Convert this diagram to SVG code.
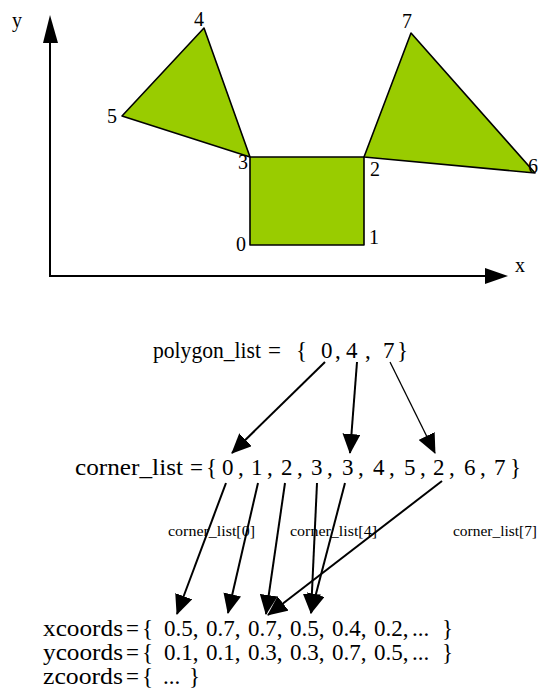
<svg xmlns="http://www.w3.org/2000/svg" width="538" height="698" viewBox="0 0 538 698">
<style>
.shape{fill:#99cc00;stroke:#000;stroke-width:1.6;stroke-linejoin:round}
.axis{stroke:#000;stroke-width:2;fill:none}
.t{font-family:"Liberation Serif","Times New Roman",serif;fill:#000}
.lbl{font-size:20px}
.main{font-size:23px}
.small{font-size:15px}
.conn{stroke:#000;stroke-width:2;fill:none}
.thin{stroke-width:1.3}
</style>
<defs>
<marker id="ah" viewBox="0 0 20 18" refX="19" refY="9" markerWidth="20" markerHeight="18" markerUnits="userSpaceOnUse" orient="auto">
<path d="M0,0 L20,9 L0,18 z" fill="#000"/>
</marker>
</defs>
<g id="axes">
<line class="axis" x1="50" y1="40" x2="50" y2="276"/>
<polygon points="50,15 43,43 58,43" fill="#000"/>
<line class="axis" x1="49" y1="276" x2="488" y2="276"/>
<polygon points="508,276 485,268 485,284" fill="#000"/>
<text class="t lbl" x="12" y="27">y</text>
<text class="t lbl" x="515" y="272">x</text>
</g>
<g id="polygon0">
<polygon class="shape" points="250,245 364,245 364,157 250,157"/>
</g>
<g id="polygon4">
<polygon class="shape" points="250,157 204,28 122,116"/>
</g>
<g id="polygon7">
<polygon class="shape" points="364,157 535,173 411,33"/>
</g>
<g id="vertex-labels" class="t lbl">
<text x="236" y="251">0</text>
<text x="369" y="244">1</text>
<text x="370" y="176">2</text>
<text x="238" y="169">3</text>
<text x="194" y="26">4</text>
<text x="107" y="123">5</text>
<text x="528" y="173">6</text>
<text x="402" y="28">7</text>
</g>
<g id="polygon_list">
<text class="t main" y="358"><tspan x="153" textLength="108" lengthAdjust="spacingAndGlyphs">polygon_list</tspan><tspan x="268">=</tspan><tspan x="296">{</tspan><tspan x="321">0</tspan><tspan x="335">,</tspan><tspan x="346">4</tspan><tspan x="365">,</tspan><tspan x="383">7</tspan><tspan x="397">}</tspan></text>
</g>
<g id="corner_list">
<text class="t main" y="475"><tspan x="75" textLength="108" lengthAdjust="spacingAndGlyphs">corner_list</tspan><tspan x="190">=</tspan><tspan x="206">{</tspan><tspan x="222">0</tspan><tspan x="238">,</tspan><tspan x="251">1</tspan><tspan x="267">,</tspan><tspan x="281">2</tspan><tspan x="297">,</tspan><tspan x="311">3</tspan><tspan x="327">,</tspan><tspan x="342">3</tspan><tspan x="358">,</tspan><tspan x="373">4</tspan><tspan x="389">,</tspan><tspan x="404">5</tspan><tspan x="420">,</tspan><tspan x="433">2</tspan><tspan x="449">,</tspan><tspan x="464">6</tspan><tspan x="480">,</tspan><tspan x="494">7</tspan><tspan x="510">}</tspan></text>
</g>
<g id="index-labels" class="t small">
<text x="168" y="536" textLength="87" lengthAdjust="spacingAndGlyphs">corner_list[0]</text>
<text x="290" y="536" textLength="87" lengthAdjust="spacingAndGlyphs">corner_list[4]</text>
<text x="453" y="536" textLength="84" lengthAdjust="spacingAndGlyphs">corner_list[7]</text>
</g>
<g id="coords" class="t main">
<text y="636"><tspan x="43" textLength="80" lengthAdjust="spacingAndGlyphs">xcoords</tspan><tspan x="126">=</tspan><tspan x="142">{</tspan><tspan x="164">0.5,</tspan><tspan x="206">0.7,</tspan><tspan x="248">0.7,</tspan><tspan x="290">0.5,</tspan><tspan x="332">0.4,</tspan><tspan x="374">0.2,</tspan><tspan x="412">...</tspan><tspan x="442">}</tspan></text>
<text y="660"><tspan x="43" textLength="80" lengthAdjust="spacingAndGlyphs">ycoords</tspan><tspan x="126">=</tspan><tspan x="142">{</tspan><tspan x="164">0.1,</tspan><tspan x="206">0.1,</tspan><tspan x="248">0.3,</tspan><tspan x="290">0.3,</tspan><tspan x="332">0.7,</tspan><tspan x="374">0.5,</tspan><tspan x="412">...</tspan><tspan x="442">}</tspan></text>
<text y="684"><tspan x="43" textLength="80" lengthAdjust="spacingAndGlyphs">zcoords</tspan><tspan x="126">=</tspan><tspan x="142">{</tspan><tspan x="163">...</tspan><tspan x="189">}</tspan></text>
</g>
<g id="connectors">
<line class="conn" x1="325" y1="362" x2="232" y2="453" marker-end="url(#ah)"/>
<line class="conn" x1="357" y1="362" x2="350" y2="453" marker-end="url(#ah)"/>
<line class="conn thin" x1="390" y1="362" x2="435" y2="453" marker-end="url(#ah)"/>
<line class="conn" x1="226" y1="483" x2="177" y2="614" marker-end="url(#ah)"/>
<line class="conn" x1="258" y1="483" x2="228" y2="613" marker-end="url(#ah)"/>
<line class="conn" x1="285" y1="483" x2="266" y2="614" marker-end="url(#ah)"/>
<line class="conn" x1="317" y1="483" x2="311" y2="613" marker-end="url(#ah)"/>
<line class="conn" x1="345" y1="483" x2="311" y2="613" marker-end="url(#ah)"/>
<line class="conn" x1="442" y1="481" x2="268" y2="615" marker-end="url(#ah)"/>
</g>
</svg>
